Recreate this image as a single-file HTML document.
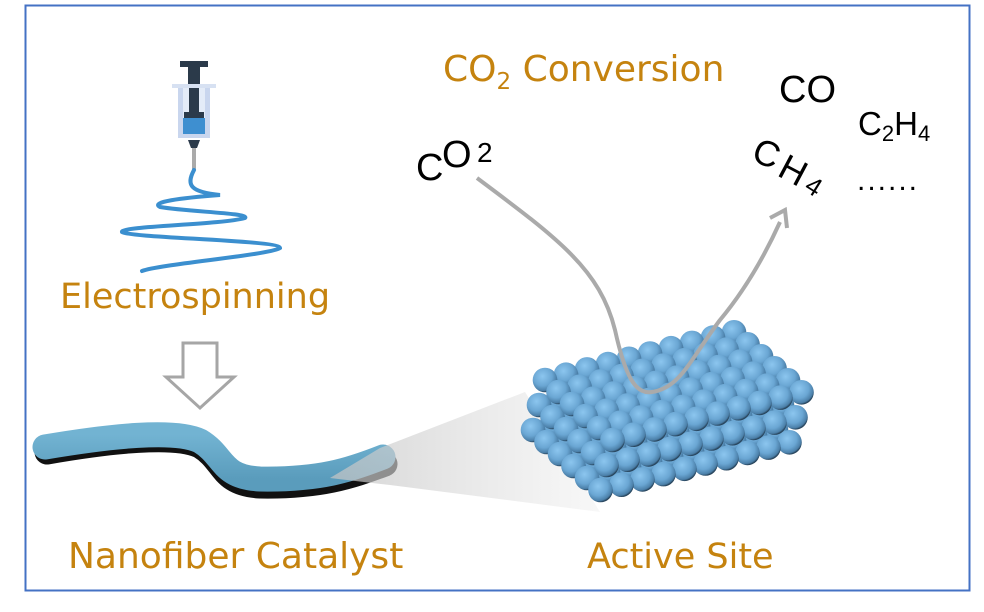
<!DOCTYPE html>
<html><head><meta charset="utf-8"><style>
html,body{margin:0;padding:0;background:#fff;}
svg{display:block;}
text{font-family:"Liberation Sans",sans-serif;}
.or{font-family:"DejaVu Sans","Liberation Sans",sans-serif;fill:#C5830F;}
</style></head><body>
<svg id="s" width="984" height="612" viewBox="0 0 984 612" xmlns="http://www.w3.org/2000/svg">
<defs>
<radialGradient id="sp" cx="0.4" cy="0.35" r="0.65">
<stop offset="0" stop-color="#8cc6ef"/><stop offset="0.6" stop-color="#6aa6d3"/><stop offset="0.9" stop-color="#4b7fa8"/><stop offset="1" stop-color="#27435a"/>
</radialGradient>
<linearGradient id="cone" x1="0" y1="0" x2="1" y2="0">
<stop offset="0" stop-color="#c4c4c4" stop-opacity="0.9"/><stop offset="1" stop-color="#efefef" stop-opacity="0.6"/>
</linearGradient>
<linearGradient id="fib" x1="0" y1="0" x2="0" y2="1">
<stop offset="0" stop-color="#72b3d2"/><stop offset="1" stop-color="#5a9cbc"/>
</linearGradient>
</defs>
<rect x="25.5" y="5.5" width="944" height="585" fill="#fff" stroke="#4472C4" stroke-width="2"/>

<rect x="180" y="61" width="28" height="6" fill="#2b3a4a"/>
<rect x="188" y="66" width="12" height="22" fill="#2b3a4a"/>
<rect x="172" y="84" width="44" height="4" fill="#d7e1f2"/>
<rect x="178" y="88" width="32" height="50" fill="#c9d6ee"/>
<rect x="183" y="88" width="22" height="46" fill="#e4ecf8"/>
<rect x="189" y="88" width="10" height="26" fill="#2b3a4a"/>
<rect x="184" y="112" width="20" height="6" fill="#2b3a4a"/>
<rect x="183" y="118" width="22" height="16" fill="#3e8fd0"/>
<path d="M188,140 L200,140 L197,148 L191,148Z" fill="#2b3a4a"/>
<rect x="192" y="148" width="4" height="22" fill="#aaa"/>
<path d="M194,170 C186,185 190,192 220,195 C180,198 150,202 160,207 C190,212 250,213 245,218 C220,225 120,226 122,232 C130,238 280,240 280,248 C270,255 160,264 142,271" fill="none" stroke="#3b8fcf" stroke-width="4" stroke-linecap="round"/>

<text x="60" y="308" class="or" font-size="35">Electrospinning</text>
<path d="M183,343 L217,343 L217,377 L234,377 L200,408 L166,377 L183,377 Z" fill="#fff" stroke="#a6a6a6" stroke-width="3"/>

<path d="M47,452 C110,441 175,434 200,446 C225,461 220,484 260,486 C320,487 350,477 385,464" fill="none" stroke="#111" stroke-width="25" stroke-linecap="round"/>
<path d="M45,447 C110,436 175,429 200,441 C225,456 220,477 260,479 C320,480 350,470 383,457" fill="none" stroke="url(#fib)" stroke-width="25" stroke-linecap="round"/>
<polygon points="330,478 380,448 525,392 600,512 390,485" fill="url(#cone)" opacity="0.8"/>

<text x="68" y="568" class="or" font-size="36">Nanofiber Catalyst</text>
<text x="587" y="568" class="or" font-size="35">Active Site</text>

<g id="blk"></g>

<path d="M477,178 C560,240 600,270 615,330 C625,375 635,395 652,392 C680,388 690,360 720,320 C745,290 765,255 780,222" fill="none" stroke="#aaa" stroke-width="4"/>
<path d="M770,218 L785,210 L787,228" fill="none" stroke="#aaa" stroke-width="4"/>

<text x="443" y="81" class="or" font-size="36">CO<tspan font-size="23" dy="8">2</tspan><tspan dy="-8"> Conversion</tspan></text>
<text font-size="38" fill="#000">
<tspan x="416" y="180">C</tspan><tspan x="442" y="167">O</tspan><tspan x="477" y="162" font-size="28">2</tspan>
</text>
<text x="779" y="102" font-size="38" fill="#000">CO</text>
<text x="858" y="135" font-size="33" fill="#000">C<tspan font-size="22" dy="6">2</tspan><tspan dy="-6">H</tspan><tspan font-size="22" dy="6">4</tspan></text>
<text font-size="36" fill="#000" transform="translate(750,160) rotate(22)">C</text>
<text font-size="36" fill="#000" transform="translate(776,175) rotate(28)">H</text>
<text font-size="26" fill="#000" transform="translate(803,190) rotate(32)">4</text>
<text x="857" y="190" font-size="30" fill="#000" letter-spacing="2">......</text>
</svg>
<script>
var g=document.getElementById('blk'),h='';
var layers=[[-12,50],[-6,25],[0,0]];
for(var L=0;L<3;L++){
 var ox=545+layers[L][0], oy=380+layers[L][1];
 for(var i=0;i<6;i++){for(var j=9;j>=0;j--){
  var x=ox+j*21+i*13.5, y=oy-j*5.3+i*12;
  h+='<circle cx="'+x.toFixed(1)+'" cy="'+y.toFixed(1)+'" r="12.3" fill="url(#sp)"/>';
 }}
}
g.innerHTML=h;
</script>
</body></html>
